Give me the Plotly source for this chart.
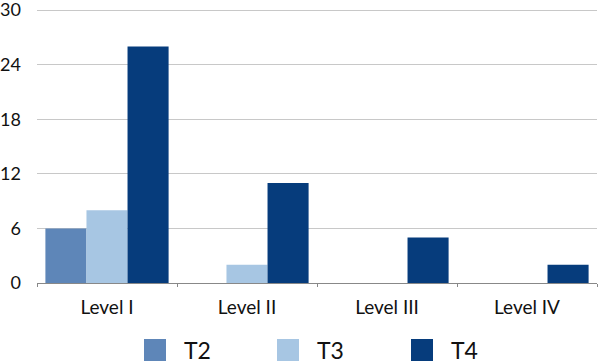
import plotly.graph_objects as go

categories = ["Level I", "Level II", "Level III", "Level IV"]
t2 = [6, 0, 0, 0]
t3 = [8, 2, 0, 0]
t4 = [26, 11, 5, 2]
series_names = ["T2", "T3", "T4"]
colors = ["#5E86B8", "#A7C6E3", "#063C7C"]
y_ticks = [0, 6, 12, 18, 24, 30]

W, H = 600, 363
ML, MR, MT, MB = 37, 3, 8, 80
PW, PH = W - ML - MR, H - MT - MB
Y_MAX = 30 * PH / 273.0  # so that the 30 gridline sits just inside the plot area

def px_x(x):
    return (x - ML) / PW

def px_y(y):
    return (H - MB - y) / PH

fig = go.Figure()
for name, vals, col in zip(series_names, [t2, t3, t4], colors):
    fig.add_trace(go.Bar(x=categories, y=vals, name=name, marker_color=col,
                         marker_line_width=0, showlegend=False))

font_family = "Lato, 'Open Sans', sans-serif"

# custom legend (large square swatches like the original)
legend_left = [144, 277, 411]
shapes, annotations = [], []
for name, col, lx in zip(series_names, colors, legend_left):
    shapes.append(dict(type="rect", xref="paper", yref="paper",
                       x0=px_x(lx), x1=px_x(lx + 22), y0=px_y(361), y1=px_y(339),
                       fillcolor=col, line=dict(width=0)))
    annotations.append(dict(text=name, xref="paper", yref="paper",
                            x=px_x(lx + 38), y=px_y(350), xanchor="left", yanchor="middle",
                            showarrow=False, font=dict(size=23, color="#111111")))

fig.update_layout(
    width=W, height=H,
    margin=dict(l=ML, r=MR, t=MT, b=MB),
    paper_bgcolor="white", plot_bgcolor="white",
    barmode="group", bargap=0.12, bargroupgap=0,
    font=dict(family=font_family, size=16, color="#111111"),
    showlegend=False,
    shapes=shapes, annotations=annotations,
)
fig.update_xaxes(type="category", showline=True, linecolor="#888888", linewidth=1,
                 ticks="outside", tickson="boundaries", ticklen=3, tickcolor="#888888",
                 showgrid=False, tickfont=dict(size=19), ticklabelstandoff=7,
                 automargin=False)
fig.update_yaxes(range=[0, Y_MAX], tickvals=y_ticks, showgrid=True, gridcolor="#C8C8C8",
                 zeroline=False, showline=False, ticks="", tickfont=dict(size=18),
                 ticklabelstandoff=15, automargin=False, ticklabeloverflow="allow")
fig.write_html("out.html", config={"displayModeBar": False},
               post_script="document.body.style.margin='0px';document.body.style.overflow='hidden';")
